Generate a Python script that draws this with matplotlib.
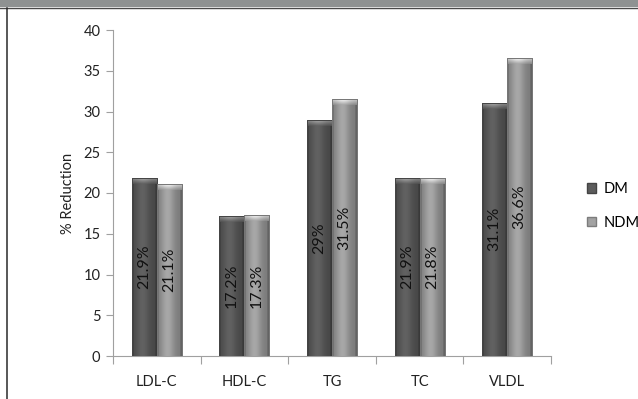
import numpy as np
import matplotlib.pyplot as plt
from matplotlib.patches import Rectangle, Patch
from matplotlib.lines import Line2D

plt.rcParams['font.family'] = ['Lato', 'DejaVu Sans']

categories = ['LDL-C', 'HDL-C', 'TG', 'TC', 'VLDL']
dm = [21.9, 17.2, 29, 21.9, 31.1]
ndm = [21.1, 17.3, 31.5, 21.8, 36.6]
dm_labels = ['21.9%', '17.2%', '29%', '21.9%', '31.1%']
ndm_labels = ['21.1%', '17.3%', '31.5%', '21.8%', '36.6%']

W, H = 638, 399
fig = plt.figure(figsize=(W / 100, H / 100), dpi=100)
fig.patch.set_facecolor('white')

# header strip and frame line
fig.patches.append(Rectangle((0, 1 - 7 / H), 1, 7 / H, transform=fig.transFigure,
                             facecolor='#8f9292', edgecolor='none', zorder=0))
fig.lines.append(Line2D([0, 1], [1 - 7.5 / H] * 2, transform=fig.transFigure,
                        color='#4a4a4a', lw=1.0))
fig.lines.append(Line2D([7 / W] * 2, [0, 1 - 7.5 / H], transform=fig.transFigure,
                        color='#2a2a2a', lw=1.1))

ax = fig.add_axes([113 / W, 1 - 356 / H, (551 - 113) / W, (356 - 30) / H])
x = np.arange(len(categories))
bw = 0.285

bars_dm = ax.bar(x - bw / 2, dm, bw, color='#5c5c5c', edgecolor='#444444', lw=0.6, zorder=2)
bars_ndm = ax.bar(x + bw / 2, ndm, bw, color='#a2a2a2', edgecolor='#7c7c7c', lw=0.6, zorder=2)

ppu = (356 - 30) / 40.0  # pixels per data unit


def shade(patch, body, cap):
    x0, w, h = patch.get_x(), patch.get_width(), patch.get_height()
    t = np.linspace(0, 1, 60)
    prof = 0.78 + 0.28 * np.exp(-((t - 0.42) / 0.28) ** 2)
    prof[:4] *= 0.8
    prof[-4:] *= 0.8
    img = np.clip(np.outer(np.ones(2), prof)[..., None] * np.array(body)[None, None, :], 0, 1)
    ch = 6 / ppu
    ax.imshow(img, extent=(x0, x0 + w, 0, h - ch), aspect='auto', zorder=3,
              interpolation='bilinear')
    v = np.linspace(0, 1, 12)[:, None]
    capimg = (v[..., None] * np.array(cap)[None, None, :] +
              (1 - v[..., None]) * np.array(body)[None, None, :])
    capimg = capimg * (0.85 + 0.2 * np.exp(-((t[None, :] - 0.45) / 0.3) ** 2))[..., None]
    capimg[-1] = np.array(body) * 0.8
    ax.imshow(np.clip(capimg, 0, 1), extent=(x0, x0 + w, h - ch, h), aspect='auto',
              zorder=3, origin='lower', interpolation='bilinear')
    ax.add_patch(Rectangle((x0, 0), w, h, fill=False, edgecolor=np.array(body) * 0.75,
                           lw=0.7, zorder=4))


for p in bars_dm:
    shade(p, (0.36, 0.36, 0.36), (0.62, 0.62, 0.62))
for p in bars_ndm:
    shade(p, (0.62, 0.62, 0.62), (0.92, 0.92, 0.92))

for i in range(len(categories)):
    ax.text(x[i] - bw / 2, dm[i] / 2, dm_labels[i], rotation=90, ha='center', va='center',
            fontsize=11.5, color='#111111', zorder=5)
    ax.text(x[i] + bw / 2, ndm[i] / 2, ndm_labels[i], rotation=90, ha='center', va='center',
            fontsize=11.5, color='#111111', zorder=5)

ax.set_xlim(-0.5, len(categories) - 0.5)
ax.set_ylim(0, 40)
ax.set_yticks(np.arange(0, 41, 5))
ax.set_xticks(x)
ax.set_xticklabels(categories)
ax.set_xticks(np.arange(-0.5, len(categories)), minor=True)
ax.tick_params(axis='x', which='major', length=0, pad=14, labelsize=10.5, labelcolor='#222222')
ax.tick_params(axis='x', which='minor', length=6, color='#a0a0a0', width=0.8)
ax.tick_params(axis='y', length=5, color='#a0a0a0', width=0.8, pad=4,
               labelsize=10.5, labelcolor='#222222')
for s in ['top', 'right']:
    ax.spines[s].set_visible(False)
for s in ['left', 'bottom']:
    ax.spines[s].set_color('#a0a0a0')
    ax.spines[s].set_linewidth(0.8)
ax.set_ylabel('% Reduction', fontsize=10.5, color='#222222', labelpad=6)

handles = [Patch(facecolor='#5c5c5c', edgecolor='#444444', label='DM'),
           Patch(facecolor='#a2a2a2', edgecolor='#7c7c7c', label='NDM')]
fig.legend(handles=handles, loc='center left', bbox_to_anchor=(574 / W, 1 - 206 / H),
           frameon=False, fontsize=10.5, handlelength=0.6, handleheight=0.6,
           handletextpad=0.5, labelspacing=1.35)

fig.savefig('out.png', dpi=100)
